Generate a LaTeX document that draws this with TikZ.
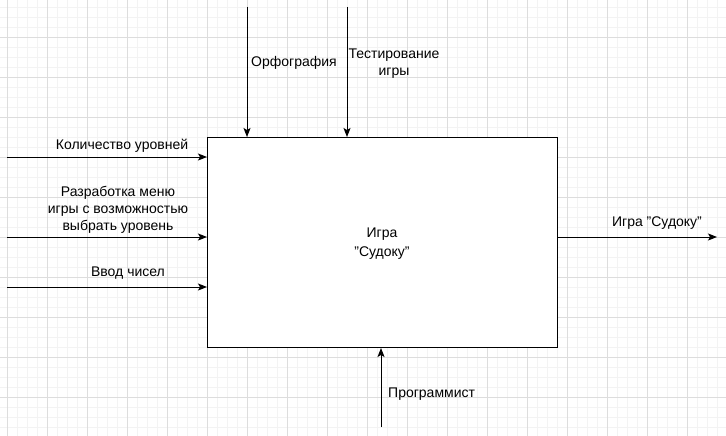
\documentclass[tikz,border=0pt]{standalone}
\usepackage{fontspec}
\setmainfont{Liberation Sans}
\newcommand\straightq{\symbol{34}}
\usetikzlibrary{arrows.meta}
\definecolor{gmajor}{HTML}{DDDDDD}
\definecolor{gminor}{HTML}{F3F3F3}
\begin{document}
\begin{tikzpicture}[x=1pt,y=-1pt,
  lbl/.style={font=\fontsize{14}{17}\selectfont, inner sep=0pt, align=center, yshift=-2.5pt},
  conn/.style={draw=black, line width=1pt, -{Stealth[length=9pt,width=7pt,inset=2pt]}},
  box/.style={draw=black, line width=1pt, fill=white, minimum width=350pt, minimum height=210pt, inner sep=0pt}]
\useasboundingbox (0,0) rectangle (726,436);
\fill[white] (0,0) rectangle (726,436);
\foreach \i in {0,...,72} {\draw[gminor, line width=0.6pt] (7+10*\i,0) -- (7+10*\i,436);}
\foreach \i in {0,...,43} {\draw[gminor, line width=0.6pt] (0,7+10*\i) -- (726,7+10*\i);}
\foreach \i in {0,...,18} {\draw[gmajor, line width=0.8pt] (7+40*\i,0) -- (7+40*\i,436);}
\foreach \i in {0,...,10} {\draw[gmajor, line width=0.8pt] (0,-3+40*\i) -- (726,-3+40*\i);}
\node[box, anchor=north west] (main) at (207,137) {};
\node[lbl, font=\fontsize{14}{19}\selectfont] (mt) at (382,241) {Игра\\\straightq Судоку\straightq};
% free ends
\coordinate (i1) at (7,157);
\coordinate (i2) at (7,237);
\coordinate (i3) at (7,287);
\coordinate (c1) at (247,7);
\coordinate (c2) at (347,7);
\coordinate (o1) at (717,237);
\coordinate (m1) at (381,427);
\draw[conn] (i1) -- (i1 -| main.west);
\draw[conn] (i2) -- (i2 -| main.west);
\draw[conn] (i3) -- (i3 -| main.west);
\draw[conn] (c1) -- (c1 |- main.north);
\draw[conn] (c2) -- (c2 |- main.north);
\draw[conn] (o1 -| main.east) -- (o1);
\draw[conn] (m1) -- (m1 |- main.south);
\node[lbl] (l1) at (122,143) {Количество уровней};
\node[lbl] (l2) at (118,207) {Разработка меню\\игры с возможностью\\выбрать уровень};
\node[lbl] (l3) at (128,271) {Ввод чисел};
\node[lbl, anchor=west] (l4) at (251,60) {Орфография};
\node[lbl] (l5) at (394,61) {Тестирование\\игры};
\node[lbl] (l6) at (657,221) {Игра \straightq Судоку\straightq};
\node[lbl, anchor=west] (l7) at (388,392) {Программист};
\end{tikzpicture}
\end{document}
